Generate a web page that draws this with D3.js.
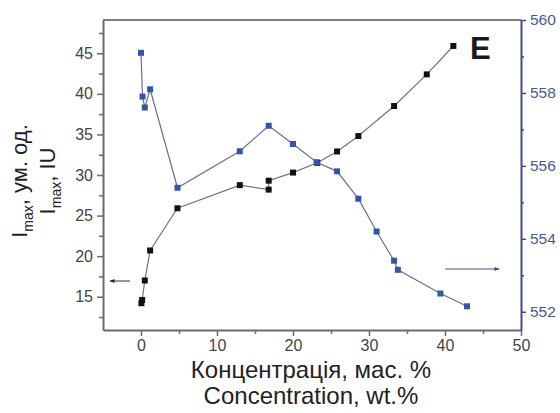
<!DOCTYPE html>
<html>
<head>
<meta charset="utf-8">
<script src="https://cdn.jsdelivr.net/npm/d3@7"></script>
<style>
  body { margin: 0; background: #fff; }
  svg { font-family: Arial, "Liberation Sans", sans-serif; }
</style>
</head>
<body>
<div id="chart"></div>
<script>
// Black series: I_max vs concentration (left axis)
const concBlack = [0.05, 0.15, 0.5, 1.2, 4.8, 13, 16.8, 16.8, 20, 23.2, 25.8, 28.6, 33.3, 37.6, 41.1];
const intensity = [14.2, 14.6, 17.0, 20.7, 25.9, 28.75, 28.2, 29.3, 30.3, 31.5, 32.9, 34.8, 38.5, 42.4, 45.9];

// Blue series: peak position vs concentration (right axis)
const concBlue = [0, 0.2, 0.5, 1.2, 4.8, 13, 16.8, 20, 23.1, 25.8, 28.6, 31, 33.3, 33.8, 39.4, 42.9];
const wavelength = [559.1, 557.9, 557.6, 558.1, 555.4, 556.4, 557.1, 556.6, 556.1, 555.85, 555.1, 554.2, 553.4, 553.15, 552.5, 552.15];

const xTicks = [0, 10, 20, 30, 40, 50];
const leftTicks = [15, 20, 25, 30, 35, 40, 45];
const rightTicks = [552, 554, 556, 558, 560];

const width = 560, height = 413;
const margin = {top: 20, right: 39, bottom: 83, left: 103};

const svg = d3.select("#chart").append("svg")
    .attr("width", width)
    .attr("height", height);

const x = d3.scaleLinear().domain([-5, 50]).range([margin.left, width - margin.right]);
const yL = d3.scaleLinear().domain([10.9, 49.1]).range([height - margin.bottom, margin.top]);
const yR = d3.scaleLinear().domain([551.5, 560]).range([height - margin.bottom, margin.top]);

const axisCol = "#6b6b6b", blueAxis = "#3f4c8c";

// top frame line
svg.append("line")
    .attr("x1", x(-5)).attr("x2", x(50))
    .attr("y1", yL(49.1)).attr("y2", yL(49.1))
    .attr("stroke", "#555").attr("stroke-width", 1.5);

// bottom axis
const gx = svg.append("g")
    .attr("transform", `translate(0,${height - margin.bottom})`)
    .call(d3.axisBottom(x).tickValues(xTicks).tickSize(6).tickPadding(4).tickSizeOuter(0));
gx.append("g").call(d3.axisBottom(x).tickValues([5, 15, 25, 35, 45]).tickSize(4).tickFormat("").tickSizeOuter(0))
    .select(".domain").remove();

// left axis
const gl = svg.append("g")
    .attr("transform", `translate(${margin.left},0)`)
    .call(d3.axisLeft(yL).tickValues(leftTicks).tickSize(6).tickPadding(4).tickSizeOuter(0));
gl.append("g").call(d3.axisLeft(yL).tickValues([12.5, 17.5, 22.5, 27.5, 32.5, 37.5, 42.5, 47.5]).tickSize(4).tickFormat("").tickSizeOuter(0))
    .select(".domain").remove();

[gx, gl].forEach(g => {
    g.selectAll(".domain").attr("stroke", axisCol).attr("stroke-width", 2);
    g.selectAll("line").attr("stroke", axisCol).attr("stroke-width", 1.5);
    g.selectAll("text").attr("fill", "#444").style("font-size", "16px").style("font-family", "Arial, 'Liberation Sans', sans-serif");
});

// right axis
const gr = svg.append("g")
    .attr("transform", `translate(${width - margin.right},0)`)
    .call(d3.axisRight(yR).tickValues(rightTicks).tickSize(5).tickPadding(4).tickSizeOuter(0));
gr.append("g").call(d3.axisRight(yR).tickValues([553, 555, 557, 559]).tickSize(3).tickFormat("").tickSizeOuter(0))
    .select(".domain").remove();
gr.selectAll(".domain").attr("stroke", blueAxis).attr("stroke-width", 2);
gr.selectAll("line").attr("stroke", blueAxis).attr("stroke-width", 1.5);
gr.selectAll("text").attr("fill", "#4a5898").style("font-size", "15.5px").style("font-family", "Arial, 'Liberation Sans', sans-serif");

// series
const blackData = concBlack.map((c, i) => ({c: c, v: intensity[i]}));
const blueData = concBlue.map((c, i) => ({c: c, v: wavelength[i]}));

svg.append("path")
    .datum(blackData)
    .attr("fill", "none")
    .attr("stroke", "#7a7272")
    .attr("stroke-width", 1.2)
    .attr("d", d3.line().x(d => x(d.c)).y(d => yL(d.v)));

svg.selectAll(".bk")
    .data(blackData)
    .enter().append("rect")
    .attr("x", d => x(d.c) - 3)
    .attr("y", d => yL(d.v) - 3)
    .attr("width", 6).attr("height", 6)
    .attr("fill", "#111");

svg.append("path")
    .datum(blueData)
    .attr("fill", "none")
    .attr("stroke", "#6e6c98")
    .attr("stroke-width", 1.2)
    .attr("d", d3.line().x(d => x(d.c)).y(d => yR(d.v)));

svg.selectAll(".bl")
    .data(blueData)
    .enter().append("rect")
    .attr("x", d => x(d.c) - 3)
    .attr("y", d => yR(d.v) - 3)
    .attr("width", 6).attr("height", 6)
    .attr("fill", "#2f56a8");

// arrows showing which axis each series uses
const defs = svg.append("defs");
[["ahBlack", "#222"], ["ahBlue", "#3f4c8c"]].forEach(([id, col]) => {
    defs.append("marker")
        .attr("id", id)
        .attr("viewBox", "0 0 10 10")
        .attr("refX", 9).attr("refY", 5)
        .attr("markerWidth", 7).attr("markerHeight", 5)
        .attr("orient", "auto")
        .append("path").attr("d", "M0,1 L10,5 L0,9 Z").attr("fill", col);
});
svg.append("line")
    .attr("x1", 130).attr("x2", 110).attr("y1", 281).attr("y2", 281)
    .attr("stroke", "#333").attr("stroke-width", 1)
    .attr("marker-end", "url(#ahBlack)");
svg.append("line")
    .attr("x1", 445).attr("x2", 499).attr("y1", 269).attr("y2", 269)
    .attr("stroke", "#3f4c8c").attr("stroke-width", 1)
    .attr("marker-end", "url(#ahBlue)");

// panel letter
svg.append("text")
    .attr("x", 470).attr("y", 59)
    .style("font-size", "31px").style("font-weight", "bold")
    .attr("fill", "#1a1a1a")
    .text("E");

// x axis title
svg.append("text")
    .attr("x", 311).attr("y", 378)
    .attr("text-anchor", "middle")
    .style("font-size", "24px").attr("fill", "#222")
    .text("Концентрація, мас. %");
svg.append("text")
    .attr("x", 311).attr("y", 404)
    .attr("text-anchor", "middle")
    .style("font-size", "24px").attr("fill", "#222")
    .text("Concentration, wt.%");

// y axis title, two lines with subscripts
function yTitle(xBase, rest) {
    const t = svg.append("text")
        .attr("transform", `translate(${xBase},181) rotate(-90)`)
        .attr("text-anchor", "middle")
        .style("font-size", "22px").attr("fill", "#222");
    t.append("tspan").text("I");
    t.append("tspan").attr("dy", 6).style("font-size", "14px").text("max");
    t.append("tspan").attr("dy", -6).text(rest);
}
yTitle(27, ", ум. од.");
yTitle(55, ", IU");
</script>
</body>
</html>
